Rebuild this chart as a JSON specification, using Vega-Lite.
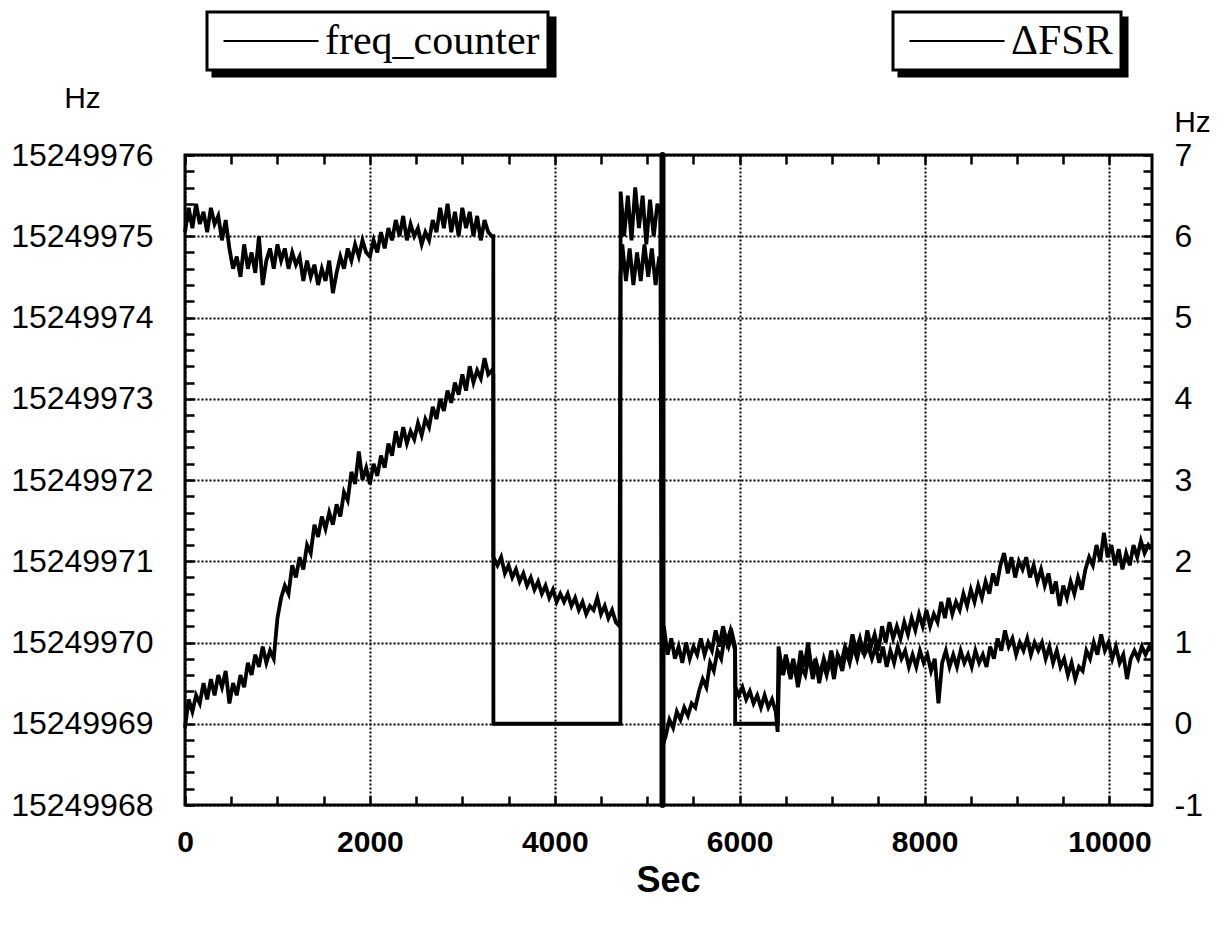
{
 "$schema": "https://vega.github.io/schema/vega-lite/v6.json",
 "width": 967,
 "height": 650,
 "autosize": {"type": "none"},
 "padding": {"left": 185, "top": 155, "right": 67, "bottom": 121},
 "background": "white",
 "config": {
  "font": "Liberation Sans",
  "view": {"stroke": "black", "strokeWidth": 3},
  "axis": {"labelColor": "black", "tickColor": "black", "titleColor": "black", "domain": false, "labelFont": "Liberation Sans", "titleFont": "Liberation Sans"}
 },
 "datasets": {
  "freq": [
   {"t":0,"hz":15249975.05},{"t":40,"hz":15249975.35},{"t":80,"hz":15249975.1},{"t":120,"hz":15249975.4},{"t":160,"hz":15249975.15},{"t":200,"hz":15249975.3},{"t":240,"hz":15249975.05},{"t":280,"hz":15249975.35},{"t":320,"hz":15249975.15},{"t":360,"hz":15249975.25},{"t":400,"hz":15249974.95},{"t":440,"hz":15249975.2},{"t":480,"hz":15249974.85},{"t":520,"hz":15249974.6},{"t":560,"hz":15249974.75},{"t":600,"hz":15249974.5},{"t":640,"hz":15249974.9},{"t":680,"hz":15249974.6},{"t":720,"hz":15249974.8},{"t":760,"hz":15249974.55},{"t":800,"hz":15249975.0},{"t":840,"hz":15249974.4},{"t":880,"hz":15249974.7},{"t":920,"hz":15249974.85},{"t":960,"hz":15249974.6},{"t":1000,"hz":15249974.9},{"t":1040,"hz":15249974.7},{"t":1080,"hz":15249974.85},{"t":1120,"hz":15249974.6},{"t":1160,"hz":15249974.8},{"t":1200,"hz":15249974.65},{"t":1240,"hz":15249974.75},{"t":1280,"hz":15249974.45},{"t":1320,"hz":15249974.7},{"t":1360,"hz":15249974.5},{"t":1400,"hz":15249974.65},{"t":1440,"hz":15249974.4},{"t":1480,"hz":15249974.6},{"t":1520,"hz":15249974.45},{"t":1560,"hz":15249974.7},{"t":1600,"hz":15249974.3},{"t":1640,"hz":15249974.55},{"t":1680,"hz":15249974.75},{"t":1720,"hz":15249974.6},{"t":1760,"hz":15249974.85},{"t":1800,"hz":15249974.7},{"t":1840,"hz":15249974.9},{"t":1880,"hz":15249974.75},{"t":1920,"hz":15249974.95},{"t":1960,"hz":15249974.8},{"t":2000,"hz":15249974.75},{"t":2040,"hz":15249974.95},{"t":2080,"hz":15249974.8},{"t":2120,"hz":15249975.05},{"t":2160,"hz":15249974.85},{"t":2200,"hz":15249975.1},{"t":2240,"hz":15249974.95},{"t":2280,"hz":15249975.2},{"t":2320,"hz":15249975.0},{"t":2360,"hz":15249975.25},{"t":2400,"hz":15249974.95},{"t":2440,"hz":15249975.15},{"t":2480,"hz":15249975.0},{"t":2520,"hz":15249975.1},{"t":2560,"hz":15249974.9},{"t":2600,"hz":15249975.05},{"t":2640,"hz":15249974.95},{"t":2680,"hz":15249975.2},{"t":2720,"hz":15249975.05},{"t":2760,"hz":15249975.35},{"t":2800,"hz":15249975.1},{"t":2840,"hz":15249975.4},{"t":2880,"hz":15249975.05},{"t":2920,"hz":15249975.3},{"t":2960,"hz":15249975.0},{"t":3000,"hz":15249975.35},{"t":3040,"hz":15249975.1},{"t":3080,"hz":15249975.3},{"t":3120,"hz":15249975.0},{"t":3160,"hz":15249975.25},{"t":3200,"hz":15249974.95},{"t":3240,"hz":15249975.2},{"t":3280,"hz":15249975.05},{"t":3320,"hz":15249975.0},{"t":3335,"hz":15249975.0},{"t":3336,"hz":15249969},{"t":4710,"hz":15249969},{"t":4712,"hz":15249975.55},{"t":4750,"hz":15249975.0},{"t":4790,"hz":15249975.5},{"t":4830,"hz":15249974.95},{"t":4870,"hz":15249975.6},{"t":4910,"hz":15249975.1},{"t":4950,"hz":15249975.5},{"t":4990,"hz":15249974.9},{"t":5030,"hz":15249975.45},{"t":5070,"hz":15249975.0},{"t":5110,"hz":15249975.4},{"t":5140,"hz":15249975.3},{"t":5160,"hz":15249970.0},{"t":5180,"hz":15249970.2},{"t":5220,"hz":15249969.85},{"t":5260,"hz":15249970.05},{"t":5300,"hz":15249969.8},{"t":5340,"hz":15249969.95},{"t":5380,"hz":15249969.75},{"t":5420,"hz":15249970.0},{"t":5460,"hz":15249969.8},{"t":5500,"hz":15249969.95},{"t":5540,"hz":15249969.85},{"t":5580,"hz":15249970.05},{"t":5620,"hz":15249969.85},{"t":5660,"hz":15249970.0},{"t":5700,"hz":15249969.9},{"t":5740,"hz":15249970.15},{"t":5780,"hz":15249969.95},{"t":5820,"hz":15249970.2},{"t":5860,"hz":15249970.0},{"t":5900,"hz":15249970.15},{"t":5940,"hz":15249969.95},{"t":5950,"hz":15249969.9},{"t":5951,"hz":15249969},{"t":6410,"hz":15249969},{"t":6420,"hz":15249969.95},{"t":6460,"hz":15249969.65},{"t":6500,"hz":15249969.85},{"t":6540,"hz":15249969.6},{"t":6580,"hz":15249969.8},{"t":6620,"hz":15249969.55},{"t":6660,"hz":15249969.9},{"t":6700,"hz":15249969.7},{"t":6740,"hz":15249970.0},{"t":6780,"hz":15249969.65},{"t":6820,"hz":15249969.8},{"t":6860,"hz":15249969.5},{"t":6900,"hz":15249969.75},{"t":6940,"hz":15249969.6},{"t":6980,"hz":15249969.8},{"t":7020,"hz":15249969.55},{"t":7060,"hz":15249969.85},{"t":7100,"hz":15249969.75},{"t":7140,"hz":15249969.95},{"t":7180,"hz":15249969.85},{"t":7220,"hz":15249970.1},{"t":7260,"hz":15249969.9},{"t":7300,"hz":15249970.05},{"t":7340,"hz":15249969.85},{"t":7380,"hz":15249970.15},{"t":7420,"hz":15249969.95},{"t":7460,"hz":15249970.1},{"t":7500,"hz":15249969.9},{"t":7540,"hz":15249970.2},{"t":7580,"hz":15249970.0},{"t":7620,"hz":15249970.25},{"t":7660,"hz":15249970.05},{"t":7700,"hz":15249970.2},{"t":7740,"hz":15249970.05},{"t":7780,"hz":15249970.25},{"t":7820,"hz":15249970.1},{"t":7860,"hz":15249970.3},{"t":7900,"hz":15249970.15},{"t":7940,"hz":15249970.35},{"t":7980,"hz":15249970.2},{"t":8020,"hz":15249970.4},{"t":8060,"hz":15249970.2},{"t":8100,"hz":15249970.35},{"t":8140,"hz":15249970.25},{"t":8180,"hz":15249970.5},{"t":8220,"hz":15249970.3},{"t":8260,"hz":15249970.55},{"t":8300,"hz":15249970.35},{"t":8340,"hz":15249970.5},{"t":8380,"hz":15249970.4},{"t":8420,"hz":15249970.6},{"t":8460,"hz":15249970.45},{"t":8500,"hz":15249970.65},{"t":8540,"hz":15249970.5},{"t":8580,"hz":15249970.7},{"t":8620,"hz":15249970.55},{"t":8660,"hz":15249970.75},{"t":8700,"hz":15249970.6},{"t":8740,"hz":15249970.85},{"t":8780,"hz":15249970.7},{"t":8820,"hz":15249970.95},{"t":8860,"hz":15249971.1},{"t":8900,"hz":15249970.85},{"t":8940,"hz":15249971.05},{"t":8980,"hz":15249970.8},{"t":9020,"hz":15249971.0},{"t":9060,"hz":15249970.9},{"t":9100,"hz":15249971.05},{"t":9140,"hz":15249970.8},{"t":9180,"hz":15249970.95},{"t":9220,"hz":15249970.75},{"t":9260,"hz":15249970.9},{"t":9300,"hz":15249970.7},{"t":9340,"hz":15249970.85},{"t":9380,"hz":15249970.6},{"t":9420,"hz":15249970.75},{"t":9460,"hz":15249970.45},{"t":9500,"hz":15249970.7},{"t":9540,"hz":15249970.55},{"t":9580,"hz":15249970.75},{"t":9620,"hz":15249970.6},{"t":9660,"hz":15249970.8},{"t":9700,"hz":15249970.65},{"t":9740,"hz":15249970.9},{"t":9780,"hz":15249971.05},{"t":9820,"hz":15249970.95},{"t":9860,"hz":15249971.2},{"t":9900,"hz":15249971.0},{"t":9940,"hz":15249971.35},{"t":9980,"hz":15249971.05},{"t":10020,"hz":15249971.2},{"t":10060,"hz":15249970.95},{"t":10100,"hz":15249971.15},{"t":10140,"hz":15249970.9},{"t":10180,"hz":15249971.1},{"t":10220,"hz":15249970.95},{"t":10260,"hz":15249971.2},{"t":10300,"hz":15249971.05},{"t":10340,"hz":15249971.25},{"t":10380,"hz":15249971.1},{"t":10420,"hz":15249971.2},{"t":10450,"hz":15249971.15}
  ],
  "dfsr": [
   {"t":0,"hz":-0.05},{"t":40,"hz":0.3},{"t":80,"hz":0.15},{"t":120,"hz":0.35},{"t":160,"hz":0.25},{"t":200,"hz":0.5},{"t":240,"hz":0.3},{"t":280,"hz":0.55},{"t":320,"hz":0.35},{"t":360,"hz":0.6},{"t":400,"hz":0.45},{"t":440,"hz":0.65},{"t":480,"hz":0.25},{"t":520,"hz":0.5},{"t":560,"hz":0.35},{"t":600,"hz":0.6},{"t":640,"hz":0.45},{"t":680,"hz":0.75},{"t":720,"hz":0.6},{"t":760,"hz":0.85},{"t":800,"hz":0.7},{"t":840,"hz":0.95},{"t":880,"hz":0.75},{"t":920,"hz":0.9},{"t":960,"hz":0.8},{"t":1000,"hz":1.3},{"t":1040,"hz":1.55},{"t":1080,"hz":1.7},{"t":1120,"hz":1.6},{"t":1160,"hz":1.95},{"t":1200,"hz":1.8},{"t":1240,"hz":2.05},{"t":1280,"hz":1.9},{"t":1320,"hz":2.2},{"t":1360,"hz":2.1},{"t":1400,"hz":2.45},{"t":1440,"hz":2.3},{"t":1480,"hz":2.55},{"t":1520,"hz":2.4},{"t":1560,"hz":2.6},{"t":1600,"hz":2.45},{"t":1640,"hz":2.7},{"t":1680,"hz":2.55},{"t":1720,"hz":2.85},{"t":1760,"hz":2.75},{"t":1800,"hz":3.1},{"t":1840,"hz":2.95},{"t":1880,"hz":3.35},{"t":1920,"hz":3.0},{"t":1960,"hz":3.15},{"t":2000,"hz":2.95},{"t":2040,"hz":3.2},{"t":2080,"hz":3.05},{"t":2120,"hz":3.3},{"t":2160,"hz":3.15},{"t":2200,"hz":3.45},{"t":2240,"hz":3.3},{"t":2280,"hz":3.6},{"t":2320,"hz":3.4},{"t":2360,"hz":3.65},{"t":2400,"hz":3.45},{"t":2440,"hz":3.6},{"t":2480,"hz":3.5},{"t":2520,"hz":3.7},{"t":2560,"hz":3.55},{"t":2600,"hz":3.75},{"t":2640,"hz":3.65},{"t":2680,"hz":3.9},{"t":2720,"hz":3.75},{"t":2760,"hz":4.0},{"t":2800,"hz":3.85},{"t":2840,"hz":4.1},{"t":2880,"hz":3.95},{"t":2920,"hz":4.2},{"t":2960,"hz":4.05},{"t":3000,"hz":4.3},{"t":3040,"hz":4.1},{"t":3080,"hz":4.4},{"t":3120,"hz":4.2},{"t":3160,"hz":4.35},{"t":3200,"hz":4.25},{"t":3240,"hz":4.5},{"t":3280,"hz":4.3},{"t":3320,"hz":4.35},{"t":3335,"hz":4.3},{"t":3336,"hz":2.05},{"t":3380,"hz":1.95},{"t":3420,"hz":2.05},{"t":3460,"hz":1.85},{"t":3500,"hz":1.95},{"t":3540,"hz":1.8},{"t":3580,"hz":1.9},{"t":3620,"hz":1.75},{"t":3660,"hz":1.85},{"t":3700,"hz":1.7},{"t":3740,"hz":1.8},{"t":3780,"hz":1.65},{"t":3820,"hz":1.75},{"t":3860,"hz":1.6},{"t":3900,"hz":1.7},{"t":3940,"hz":1.55},{"t":3980,"hz":1.65},{"t":4020,"hz":1.5},{"t":4060,"hz":1.6},{"t":4100,"hz":1.5},{"t":4140,"hz":1.6},{"t":4180,"hz":1.45},{"t":4220,"hz":1.55},{"t":4260,"hz":1.4},{"t":4300,"hz":1.5},{"t":4340,"hz":1.35},{"t":4380,"hz":1.45},{"t":4420,"hz":1.4},{"t":4460,"hz":1.55},{"t":4500,"hz":1.35},{"t":4540,"hz":1.45},{"t":4580,"hz":1.3},{"t":4620,"hz":1.4},{"t":4660,"hz":1.25},{"t":4700,"hz":1.2},{"t":4710,"hz":5.5},{"t":4730,"hz":5.9},{"t":4770,"hz":5.45},{"t":4810,"hz":5.85},{"t":4850,"hz":5.4},{"t":4890,"hz":5.8},{"t":4930,"hz":5.45},{"t":4970,"hz":5.9},{"t":5010,"hz":5.5},{"t":5050,"hz":5.85},{"t":5090,"hz":5.4},{"t":5130,"hz":5.75},{"t":5150,"hz":5.6},{"t":5160,"hz":-0.3},{"t":5200,"hz":-0.15},{"t":5240,"hz":0.05},{"t":5280,"hz":-0.05},{"t":5320,"hz":0.15},{"t":5360,"hz":0.05},{"t":5400,"hz":0.2},{"t":5440,"hz":0.1},{"t":5480,"hz":0.25},{"t":5520,"hz":0.2},{"t":5560,"hz":0.4},{"t":5600,"hz":0.55},{"t":5640,"hz":0.45},{"t":5680,"hz":0.75},{"t":5720,"hz":0.65},{"t":5760,"hz":0.9},{"t":5800,"hz":0.8},{"t":5840,"hz":1.1},{"t":5880,"hz":0.95},{"t":5920,"hz":1.1},{"t":5950,"hz":0.95},{"t":5955,"hz":0.45},{"t":5990,"hz":0.35},{"t":6030,"hz":0.45},{"t":6070,"hz":0.3},{"t":6110,"hz":0.4},{"t":6150,"hz":0.25},{"t":6190,"hz":0.35},{"t":6230,"hz":0.2},{"t":6270,"hz":0.35},{"t":6310,"hz":0.2},{"t":6350,"hz":0.3},{"t":6390,"hz":0.15},{"t":6410,"hz":-0.1},{"t":6430,"hz":0.8},{"t":6470,"hz":0.6},{"t":6510,"hz":0.8},{"t":6550,"hz":0.55},{"t":6590,"hz":0.75},{"t":6630,"hz":0.45},{"t":6670,"hz":0.7},{"t":6710,"hz":0.6},{"t":6750,"hz":0.85},{"t":6790,"hz":0.55},{"t":6830,"hz":0.75},{"t":6870,"hz":0.6},{"t":6910,"hz":0.8},{"t":6950,"hz":0.65},{"t":6990,"hz":0.9},{"t":7030,"hz":0.7},{"t":7070,"hz":0.8},{"t":7110,"hz":0.65},{"t":7150,"hz":0.9},{"t":7190,"hz":0.75},{"t":7230,"hz":0.95},{"t":7270,"hz":0.8},{"t":7310,"hz":1.0},{"t":7350,"hz":0.85},{"t":7390,"hz":0.95},{"t":7430,"hz":0.8},{"t":7470,"hz":0.95},{"t":7510,"hz":0.75},{"t":7550,"hz":0.95},{"t":7590,"hz":0.7},{"t":7630,"hz":0.9},{"t":7670,"hz":0.75},{"t":7710,"hz":0.95},{"t":7750,"hz":0.8},{"t":7790,"hz":0.9},{"t":7830,"hz":0.7},{"t":7870,"hz":0.85},{"t":7910,"hz":0.7},{"t":7950,"hz":0.9},{"t":7990,"hz":0.75},{"t":8030,"hz":0.85},{"t":8070,"hz":0.65},{"t":8110,"hz":0.8},{"t":8150,"hz":0.25},{"t":8190,"hz":0.75},{"t":8230,"hz":0.9},{"t":8270,"hz":0.7},{"t":8310,"hz":0.85},{"t":8350,"hz":0.7},{"t":8390,"hz":0.9},{"t":8430,"hz":0.75},{"t":8470,"hz":0.85},{"t":8510,"hz":0.7},{"t":8550,"hz":0.9},{"t":8590,"hz":0.75},{"t":8630,"hz":0.85},{"t":8670,"hz":0.7},{"t":8710,"hz":0.95},{"t":8750,"hz":0.8},{"t":8790,"hz":1.05},{"t":8830,"hz":0.9},{"t":8870,"hz":1.15},{"t":8910,"hz":0.95},{"t":8950,"hz":1.05},{"t":8990,"hz":0.85},{"t":9030,"hz":1.0},{"t":9070,"hz":0.9},{"t":9110,"hz":1.05},{"t":9150,"hz":0.85},{"t":9190,"hz":1.0},{"t":9230,"hz":0.9},{"t":9270,"hz":1.0},{"t":9310,"hz":0.8},{"t":9350,"hz":0.95},{"t":9390,"hz":0.75},{"t":9430,"hz":0.9},{"t":9470,"hz":0.7},{"t":9510,"hz":0.8},{"t":9550,"hz":0.6},{"t":9590,"hz":0.75},{"t":9630,"hz":0.55},{"t":9670,"hz":0.7},{"t":9710,"hz":0.65},{"t":9750,"hz":0.9},{"t":9790,"hz":0.8},{"t":9830,"hz":1.0},{"t":9870,"hz":0.85},{"t":9910,"hz":1.1},{"t":9950,"hz":0.9},{"t":9990,"hz":1.0},{"t":10030,"hz":0.8},{"t":10070,"hz":0.95},{"t":10110,"hz":0.75},{"t":10150,"hz":0.85},{"t":10190,"hz":0.55},{"t":10230,"hz":0.8},{"t":10270,"hz":0.9},{"t":10310,"hz":0.8},{"t":10350,"hz":0.95},{"t":10390,"hz":0.85},{"t":10430,"hz":0.95},{"t":10450,"hz":0.9}
  ],
  "events": [{"t": 5165}]
 },
 "layer": [
  {
   "data": {"name": "freq"},
   "mark": {"type": "line", "strokeWidth": 3.8},
   "encoding": {
    "x": {"field": "t", "type": "quantitative", "scale": {"domain": [0, 10460], "nice": false, "zero": false},
     "axis": {"orient": "bottom", "values": [0, 2000, 4000, 6000, 8000, 10000], "ticks": false,
      "labelExpr": "'' + datum.value",
      "labelFontSize": 30, "labelFontWeight": "bold", "labelPadding": 22, "labelFlush": false, "labelOverlap": false,
      "grid": true, "gridColor": "black", "gridDash": [2, 2], "gridWidth": 2,
      "title": "Sec", "titleFontSize": 36, "titleFontWeight": "bold", "titleX": 483, "titleY": 75, "titleBaseline": "middle", "titleAlign": "center"}},
    "y": {"field": "hz", "type": "quantitative", "scale": {"domain": [15249968, 15249976], "nice": false, "zero": false},
     "axis": {"orient": "left", "values": [15249968, 15249969, 15249970, 15249971, 15249972, 15249973, 15249974, 15249975, 15249976], "ticks": false,
      "labelExpr": "'' + round(datum.value)",
      "labelFontSize": 32, "labelPadding": 32, "labelOverlap": false, "labelFlush": false,
      "grid": true, "gridColor": "black", "gridDash": [2, 2], "gridWidth": 2,
      "title": "Hz", "titleAngle": 0, "titleX": -103, "titleY": -57, "titleAlign": "center", "titleBaseline": "middle", "titleFontSize": 30, "titleFontWeight": "normal"}},
    "color": {"datum": "freq_counter", "type": "nominal", "scale": {"range": ["black"]},
     "legend": {"orient": "none", "legendX": 22, "legendY": -143, "title": null, "strokeColor": "black", "fillColor": "white", "padding": 8, "zindex": 2,
      "symbolType": "M-4,0H4", "symbolSize": 564, "symbolStrokeWidth": 2, "symbolOffset": 35, "labelOffset": 33,
      "labelFont": "Liberation Serif", "labelFontSize": 42, "labelColor": "black", "labelLimit": 0,
      "encode": {"legend": {"update": {"strokeWidth": {"value": 3}}}}}},
    "strokeDash": {"datum": "shadow_freq", "type": "nominal", "scale": {"range": [[1, 0]]},
     "legend": {"orient": "none", "legendX": 28, "legendY": -137, "title": null, "strokeColor": "black", "fillColor": "black", "padding": 8, "zindex": 1,
      "symbolType": "M0,-1H15.48V1H0Z", "symbolSize": 1764, "symbolStrokeWidth": 0, "symbolOffset": -21, "symbolFillColor": "black", "symbolStrokeColor": "black",
      "labelExpr": "''", "labelFontSize": 10, "labelOffset": 0,
      "encode": {"legend": {"update": {"strokeWidth": {"value": 3}}}, "symbols": {"update": {"fill": {"value": "black"}, "fillOpacity": {"value": 1}, "stroke": {"value": "black"}}}}}}
   }
  },
  {
   "data": {"name": "dfsr"},
   "mark": {"type": "line", "strokeWidth": 3.8},
   "encoding": {
    "x": {"field": "t", "type": "quantitative",
     "axis": {"orient": "top", "offset": -9, "values": [0,500,1000,1500,2000,2500,3000,3500,4000,4500,5000,5500,6000,6500,7000,7500,8000,8500,9000,9500,10000],
      "ticks": true, "tickSize": 9, "tickWidth": 2.5, "tickColor": "black", "tickOpacity": 1, "labels": false, "grid": false, "title": null, "zindex": 3}},
    "y": {"field": "hz", "type": "quantitative", "scale": {"domain": [-1, 7], "nice": false, "zero": false},
     "axis": {"orient": "right", "values": [-1, 0, 1, 2, 3, 4, 5, 6, 7], "ticks": false,
      "labelExpr": "'' + round(datum.value)",
      "labelFontSize": 32, "labelPadding": 22, "labelOverlap": false, "labelFlush": false, "grid": false,
      "title": "Hz", "titleAngle": 0, "titleX": 40, "titleY": -33, "titleAlign": "center", "titleBaseline": "middle", "titleFontSize": 30, "titleFontWeight": "normal"}},
    "color": {"datum": "ΔFSR", "type": "nominal", "scale": {"range": ["black"]},
     "legend": {"orient": "none", "legendX": 708, "legendY": -143, "title": null, "strokeColor": "black", "fillColor": "white", "padding": 8, "zindex": 2,
      "symbolType": "M-4,0H4", "symbolSize": 564, "symbolStrokeWidth": 2, "symbolOffset": 35, "labelOffset": 33,
      "labelFont": "Liberation Serif", "labelFontSize": 42, "labelColor": "black", "labelLimit": 0,
      "encode": {"legend": {"update": {"strokeWidth": {"value": 3}}}}}},
    "strokeDash": {"datum": "shadow_dfsr", "type": "nominal", "scale": {"range": [[1, 0]]},
     "legend": {"orient": "none", "legendX": 714, "legendY": -137, "title": null, "strokeColor": "black", "fillColor": "black", "padding": 8, "zindex": 1,
      "symbolType": "M0,-1H10.05V1H0Z", "symbolSize": 1764, "symbolStrokeWidth": 0, "symbolOffset": -21, "symbolFillColor": "black", "symbolStrokeColor": "black",
      "labelExpr": "''", "labelFontSize": 10, "labelOffset": 0,
      "encode": {"legend": {"update": {"strokeWidth": {"value": 3}}}, "symbols": {"update": {"fill": {"value": "black"}, "fillOpacity": {"value": 1}, "stroke": {"value": "black"}}}}}}
   }
  },
  {
   "data": {"name": "events"},
   "mark": {"type": "rule", "strokeWidth": 6, "color": "black", "strokeCap": "round"},
   "encoding": {"x": {"field": "t", "type": "quantitative",
     "axis": {"orient": "bottom", "offset": -9, "values": [0,500,1000,1500,2000,2500,3000,3500,4000,4500,5000,5500,6000,6500,7000,7500,8000,8500,9000,9500,10000],
      "ticks": true, "tickSize": 9, "tickWidth": 2.5, "tickColor": "black", "tickOpacity": 1, "labels": false, "grid": false, "title": null, "zindex": 3}}}
  },
  {
   "data": {"name": "events"},
   "mark": {"type": "point", "opacity": 0},
   "encoding": {
    "x": {"field": "t", "type": "quantitative", "axis": null},
    "y": {"datum": 15249970, "type": "quantitative", "scale": {"domain": [15249968, 15249976], "nice": false, "zero": false},
     "axis": {"orient": "left", "offset": -9, "values": [15249968,15249968.2,15249968.4,15249968.6,15249968.8,15249969,15249969.2,15249969.4,15249969.6,15249969.8,15249970,15249970.2,15249970.4,15249970.6,15249970.8,15249971,15249971.2,15249971.4,15249971.6,15249971.8,15249972,15249972.2,15249972.4,15249972.6,15249972.8,15249973,15249973.2,15249973.4,15249973.6,15249973.8,15249974,15249974.2,15249974.4,15249974.6,15249974.8,15249975,15249975.2,15249975.4,15249975.6,15249975.8,15249976],
      "ticks": true, "tickSize": 9, "tickWidth": 2.5, "tickColor": "black", "tickOpacity": 1, "labels": false, "grid": false, "title": null, "zindex": 3}}
   }
  },
  {
   "data": {"name": "events"},
   "mark": {"type": "point", "opacity": 0},
   "encoding": {
    "x": {"field": "t", "type": "quantitative", "axis": null},
    "y": {"datum": 0, "type": "quantitative", "scale": {"domain": [-1, 7], "nice": false, "zero": false},
     "axis": {"orient": "right", "offset": -9, "values": [-1,-0.8,-0.6,-0.4,-0.2,0,0.2,0.4,0.6,0.8,1,1.2,1.4,1.6,1.8,2,2.2,2.4,2.6,2.8,3,3.2,3.4,3.6,3.8,4,4.2,4.4,4.6,4.8,5,5.2,5.4,5.6,5.8,6,6.2,6.4,6.6,6.8,7],
      "ticks": true, "tickSize": 9, "tickWidth": 2.5, "tickColor": "black", "tickOpacity": 1, "labels": false, "grid": false, "title": null, "zindex": 3}}
   }
  }
 ],
 "resolve": {
  "scale": {"y": "independent", "color": "independent", "strokeDash": "independent"},
  "axis": {"x": "independent", "y": "independent"},
  "legend": {"color": "independent", "strokeDash": "independent"}
 }
}
